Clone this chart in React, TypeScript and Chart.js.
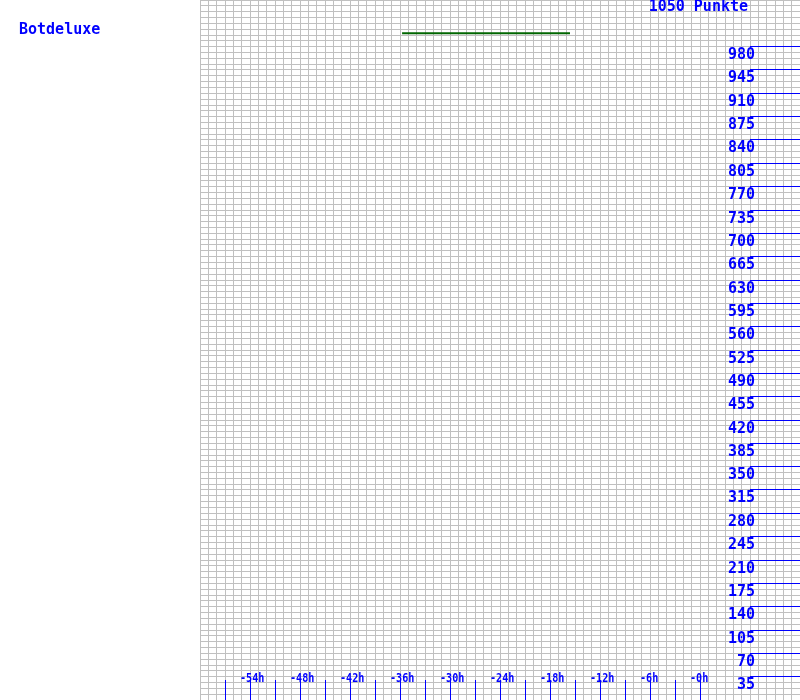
import React, { useEffect, useRef } from "react";
import { Chart, registerables } from "chart.js";

Chart.register(...registerables);

// ---- data ----
const playerName = "Botdeluxe";
const unitLabel = "Punkte";
const hourMin = -60;
const hourMax = 12;
const hourGridStep = 1;
const pointsMin = 0;
const pointsMax = 1050;
const pointsGridStep = 8.75;

const seriesHours = [-35.75, -15.6];
const seriesPoints = [1000, 1000];

const hourLabelValues = [-54, -48, -42, -36, -30, -24, -18, -12, -6, 0];
const hourLabelTexts = ["-54h", "-48h", "-42h", "-36h", "-30h", "-24h", "-18h", "-12h", "-6h", "-0h"];
const hourMarkValues = [-57, -54, -51, -48, -45, -42, -39, -36, -33, -30, -27, -24, -21, -18, -15, -12, -9, -6, -3, 0];
const pointTickValues = [
  35, 70, 105, 140, 175, 210, 245, 280, 315, 350, 385, 420, 455, 490, 525, 560, 595, 630, 665, 700, 735, 770,
  805, 840, 875, 910, 945, 980,
];
const pointTickStartHour = 6;

const BLUE = "#0000ff";
const GRID = "#c0c0c0";
const LINE_GREEN = "#006600";
const MONO = "'DejaVu Sans Mono', 'Liberation Mono', monospace";

const overlayPlugin = {
  id: "overlay",
  afterDraw(chart: any) {
    const ctx = chart.ctx as CanvasRenderingContext2D;
    const xs = chart.scales.x;
    const ys = chart.scales.y;
    const area = chart.chartArea;
    ctx.save();
    ctx.globalAlpha = 1;
    ctx.setLineDash([]);

    // player name
    ctx.fillStyle = BLUE;
    ctx.font = `bold 15px ${MONO}`;
    ctx.textAlign = "left";
    ctx.textBaseline = "alphabetic";
    ctx.fillText(playerName, 19, 34);

    // top value label
    ctx.textAlign = "right";
    ctx.fillText(`${pointsMax} ${unitLabel}`, 748, 11);

    // hour marks
    ctx.lineWidth = 1;
    for (const h of hourMarkValues) {
      const x = Math.floor(xs.getPixelForValue(h)) + 0.5;
      ctx.strokeStyle = BLUE;
      ctx.beginPath();
      ctx.moveTo(x, area.bottom - 20);
      ctx.lineTo(x, area.bottom);
      ctx.stroke();
    }

    // hour labels
    ctx.font = `bold 12px ${MONO}`;
    ctx.textAlign = "left";
    hourLabelValues.forEach((h, i) => {
      const x = xs.getPixelForValue(h);
      const t = hourLabelTexts[i];
      ctx.fillText(t, x - 10, area.bottom - 18, t.length * 6.1);
    });

    // point ticks
    ctx.font = `bold 15px ${MONO}`;
    ctx.textAlign = "right";
    const x0 = xs.getPixelForValue(pointTickStartHour);
    for (const v of pointTickValues) {
      const y = Math.floor(ys.getPixelForValue(v)) + 0.5;
      ctx.strokeStyle = BLUE;
      ctx.beginPath();
      ctx.moveTo(x0, y);
      ctx.lineTo(area.right, y);
      ctx.stroke();
      ctx.fillText(String(v), x0 + 5, y + 12.5);
    }
    ctx.restore();
  },
};

export default function App() {
  const ref = useRef<HTMLCanvasElement | null>(null);
  useEffect(() => {
    if (!ref.current) return;
    const chart = new Chart(ref.current, {
      type: "line",
      data: {
        datasets: [
          {
            data: seriesHours.map((h, i) => ({ x: h, y: seriesPoints[i] })),
            borderColor: LINE_GREEN,
            borderWidth: 2,
            pointRadius: 0,
            fill: false,
            tension: 0,
          },
        ],
      },
      options: {
        animation: false,
        responsive: false,
        maintainAspectRatio: false,
        layout: { padding: { left: 200, right: 0, top: 0, bottom: 0 } },
        plugins: { legend: { display: false }, title: { display: false }, tooltip: { enabled: false } },
        scales: {
          x: {
            type: "linear",
            min: hourMin,
            max: hourMax,
            ticks: { display: false, stepSize: hourGridStep, autoSkip: false },
            grid: { color: GRID, lineWidth: 1, drawTicks: false },
            border: { display: false },
          },
          y: {
            type: "linear",
            min: pointsMin,
            max: pointsMax,
            ticks: { display: false, stepSize: pointsGridStep, autoSkip: false },
            grid: { color: GRID, lineWidth: 1, drawTicks: false },
            border: { display: false },
          },
        },
      },
      plugins: [overlayPlugin],
    });
    return () => chart.destroy();
  }, []);
  return (
    <div style={{ position: "absolute", left: 0, top: 0, width: 800, height: 700, background: "#fff" }}>
      <canvas ref={ref} width={800} height={700} style={{ display: "block" }} />
    </div>
  );
}
